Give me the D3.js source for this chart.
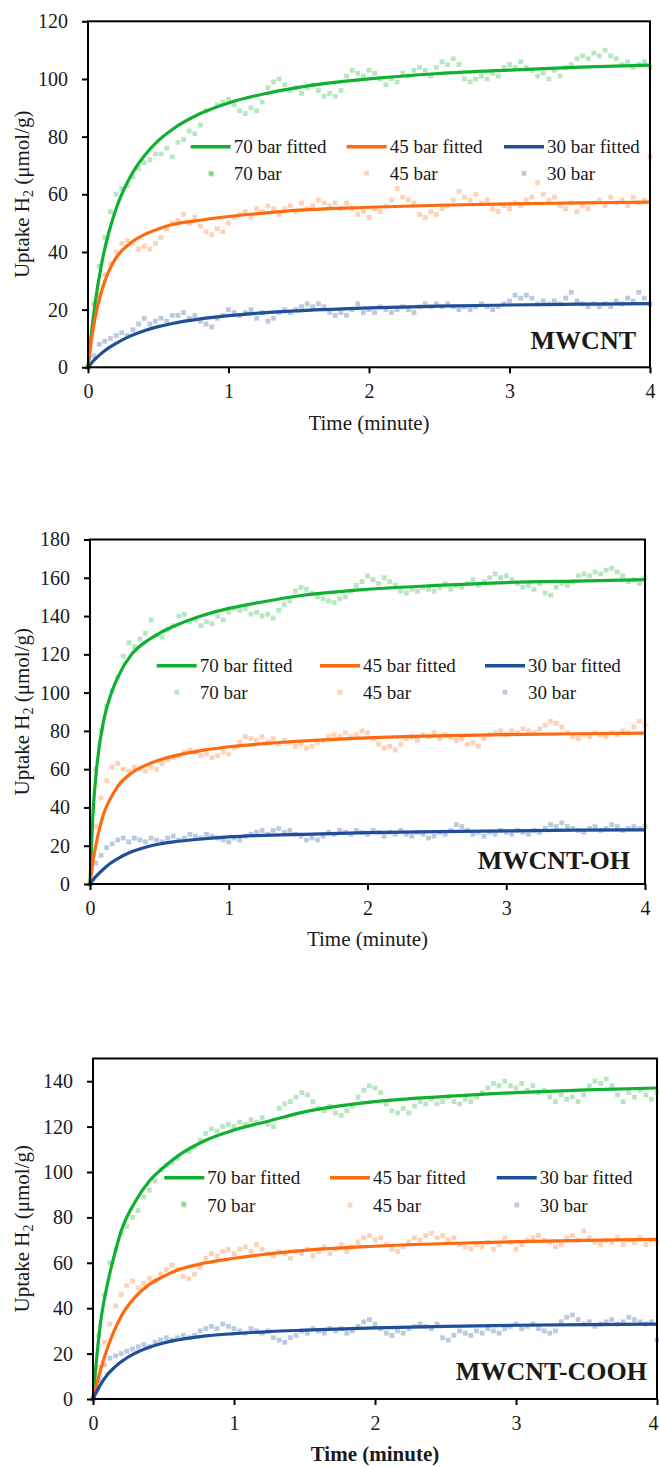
<!DOCTYPE html>
<html>
<head>
<meta charset="utf-8">
<script src="https://cdn.jsdelivr.net/npm/d3@7"></script>
<style>
  html, body { margin: 0; padding: 0; background: #fff; }
  svg { display: block; }
  svg text { font-family: "Liberation Serif", "Times New Roman", "DejaVu Serif", serif; fill: #1a1a1a; }
</style>
</head>
<body>
<svg id="chart" width="659" height="1467" font-family="Liberation Serif, Times New Roman, serif"></svg>
<script>
// Measured uptake: one reading every 0.04 min from 0 to 4 min
const sampleTimes = d3.range(101).map(i => +(i * 0.04).toFixed(2));
// Times at which the fitted kinetic curves are tabulated
const fitTimes = [0, 0.02, 0.05, 0.1, 0.15, 0.2, 0.3, 0.4, 0.5, 0.6, 0.8, 1, 1.25, 1.5, 2, 2.5, 3, 3.5, 4];

const seriesNames = ["70 bar", "45 bar", "30 bar"];
const xTicks = [0, 1, 2, 3, 4];

// ---- MWCNT ----
const mwcnt70 = [0,22,35,45,54,60,62,63,66,69,71,72,74,74,76,73,78,79,82,81,84,89,67,91,92,93,91,89,88,90,89,92,97,99,100,98,96,97,95,97,98,96,94,95,94,96,101,103,102,101,103,102,100,98,100,99,102,101,103,104,103,101,104,106,105,107,105,100,99,100,101,100,102,101,104,105,104,106,104,103,101,102,100,103,101,104,105,107,108,107,109,108,110,108,107,105,106,104,105,106,104];
const mwcnt45 = [0,16,25,32,36,40,43,44,43,41,42,41,43,45,48,50,51,53,50,52,49,47,46,48,47,50,52,53,54,52,55,54,56,55,53,55,56,54,57,55,56,58,57,56,57,55,57,55,53,54,52,55,54,56,58,62,59,58,57,53,52,54,53,55,56,58,61,59,58,60,57,58,55,54,56,55,57,56,58,59,64,60,58,59,56,55,57,54,56,55,57,58,56,59,57,58,56,59,57,58,73];
const mwcnt30 = [0,4,8,9,10,11,12,11,13,15,17,15,16,17,16,18,18,19,17,18,16,15,14,17,18,20,19,18,19,20,17,19,16,17,19,20,19,20,21,22,21,22,21,19,18,19,18,20,22,19,20,19,21,20,19,20,21,20,19,21,22,21,22,21,22,21,20,21,20,21,22,21,20,21,22,23,25,24,25,24,22,23,22,23,22,24,26,23,22,21,22,21,22,21,23,22,24,23,26,24,22];
const mwcnt70Fit = [0,10,22,36.7,47.1,55,66,73.3,78.6,82.5,88,91.7,94.8,97.1,100,101.9,103.1,104.1,104.8];
const mwcnt45Fit = [0,8,17,27,33.5,38,43,46,48,49.5,51,52.3,53.5,54.5,55.5,56.2,56.7,57,57.3];
const mwcnt30Fit = [0,1.2,2.8,5,6.8,8.3,10.8,12.7,14.1,15.2,16.8,17.9,18.9,19.6,20.6,21.2,21.6,21.9,22.1];

// ---- MWCNT-OH ----
const oh70 = [0,60,80,93,101,108,119,126,124,128,131,138,130,129,133,135,140,141,137,138,135,137,136,140,138,142,144,143,144,141,142,140,141,139,143,146,148,153,155,154,152,150,149,148,147,149,150,153,156,158,161,159,157,160,158,156,153,152,154,153,155,154,153,155,157,154,156,155,157,159,156,158,160,162,160,161,159,157,155,156,154,157,152,151,155,157,156,158,161,162,161,163,162,164,165,163,161,158,159,157,160];
const oh45 = [0,30,45,54,61,63,60,59,61,60,59,61,60,63,65,66,67,69,70,69,67,68,66,67,69,68,71,74,77,76,75,77,74,76,73,75,74,72,73,71,72,74,75,77,78,77,79,77,78,80,79,76,73,71,72,70,73,76,77,75,78,77,79,76,78,77,75,76,73,74,72,76,78,79,80,78,80,79,81,80,79,81,83,85,84,82,79,77,76,78,77,79,78,77,79,78,80,79,82,85,83];
const oh30 = [0,11,15,19,21,23,24,22,24,23,22,24,23,22,24,25,23,24,26,25,24,26,25,24,23,22,24,23,25,26,27,28,26,28,29,27,28,26,25,23,24,23,25,27,26,28,27,26,28,27,26,28,27,25,27,26,28,26,25,27,26,24,25,27,26,28,31,30,28,26,27,25,27,26,28,27,26,28,27,26,28,27,29,31,30,32,30,29,28,27,29,30,28,29,31,30,28,29,30,29,30];
const oh70Fit = [0,35,62,86,99,108,120,126.5,131,134.5,140,144,147.5,150.5,154,156,157.5,158.3,159];
const oh45Fit = [0,11,23,37,45,51,58,62,64.8,66.8,69.7,71.7,73.3,74.6,76.4,77.4,78,78.5,78.8];
const oh30Fit = [0,2,4.5,8,11,13.3,16.8,19.2,20.9,22,23.5,24.6,25.4,25.9,26.8,27.4,27.8,28.1,28.3];

// ---- MWCNT-COOH ----
const cooh70 = [0,28,46,60,66,73,76,80,83,89,92,96,101,103,104,106,86,109,111,114,117,119,118,120,121,120,122,121,123,122,124,121,120,128,130,131,133,135,134,131,128,127,129,126,125,127,129,133,136,138,137,135,130,127,126,128,126,129,131,130,132,130,131,133,131,130,132,131,133,135,137,139,138,140,138,137,139,136,138,135,136,133,131,134,132,133,131,134,138,140,139,141,138,134,131,135,133,136,134,132,135];
const cooh45 = [0,14,25,33,41,46,50,52,49,51,53,52,55,57,59,57,54,53,55,58,62,64,63,65,66,64,66,67,65,68,66,64,63,65,64,62,65,64,66,63,65,67,64,66,68,65,67,69,71,72,70,71,68,66,65,67,69,71,70,72,73,71,72,70,71,68,67,66,68,67,69,66,68,71,69,66,68,70,71,72,70,69,67,68,71,72,70,74,71,69,68,70,69,71,68,70,69,71,68,70,69];
const cooh30 = [0,8,15,18,19,20,21,22,23,24,23,25,26,27,26,27,28,27,28,30,31,32,31,33,32,31,30,29,31,30,29,30,27,26,25,27,28,30,29,31,30,29,31,30,31,29,30,32,34,35,33,31,29,28,30,29,31,32,33,32,31,33,27,26,28,30,29,28,30,29,31,30,29,31,32,33,31,32,33,31,30,29,30,34,36,37,35,33,34,32,33,34,35,33,34,36,35,34,33,34,26];
const cooh70Fit = [0,14,32,50,63,74,87,96,102,107,114,118.5,122.5,126.5,131,133.3,135,136.2,137];
const cooh45Fit = [0,5,12,22,30,36.5,45,50.5,54,56.8,60,62,64,65.5,67.3,68.5,69.3,69.9,70.3];
const cooh30Fit = [0,2.5,6,10.6,13.8,16.4,20.2,22.8,24.7,26,27.8,28.8,29.7,30.3,31.3,32,32.5,32.8,33];

const colors = ["#10b030", "#ff6a10", "#1f4e9a"];
const serif = '"Liberation Serif", "Times New Roman", serif';

const panels = [
  { label: "MWCNT", ymax: 120, yTicks: d3.range(0, 121, 20),
    left: 88, right: 650, top: 21.3, bottom: 367.3,
    measured: [mwcnt70, mwcnt45, mwcnt30], fitted: [mwcnt70Fit, mwcnt45Fit, mwcnt30Fit],
    legendCols: [190.7, 346.7, 504], legendRows: [146.7, 173.3],
    labelX: 636, labelY: 349, boldTitle: false },
  { label: "MWCNT-OH", ymax: 180, yTicks: d3.range(0, 181, 20),
    left: 90, right: 645, top: 539.5, bottom: 884,
    measured: [oh70, oh45, oh30], fitted: [oh70Fit, oh45Fit, oh30Fit],
    legendCols: [156.7, 320, 485], legendRows: [665.7, 692.3],
    labelX: 630, labelY: 869, boldTitle: false },
  { label: "MWCNT-COOH", ymax: 150, yTicks: d3.range(0, 141, 20),
    left: 93, right: 657, top: 1058.5, bottom: 1399,
    measured: [cooh70, cooh45, cooh30], fitted: [cooh70Fit, cooh45Fit, cooh30Fit],
    legendCols: [164.3, 330, 496.7], legendRows: [1177.7, 1205],
    labelX: 647, labelY: 1380, boldTitle: true }
];

const svg = d3.select("#chart");
svg.append("rect").attr("width", 659).attr("height", 1467).attr("fill", "#fff");

panels.forEach(p => {
  const g = svg.append("g").attr("font-family", serif);
  const x = d3.scaleLinear().domain([0, 4]).range([p.left, p.right]);
  const y = d3.scaleLinear().domain([0, p.ymax]).range([p.bottom, p.top]);

  // measured points (light squares)
  const sq = 4.8;
  p.measured.forEach((vals, si) => {
    g.append("g").selectAll("rect")
      .data(vals.map((v, i) => [sampleTimes[i], v]))
      .join("rect")
      .attr("x", d => x(d[0]) - sq / 2)
      .attr("y", d => y(d[1]) - sq / 2)
      .attr("width", sq).attr("height", sq)
      .attr("fill", colors[si]).attr("fill-opacity", 0.3);
  });

  // fitted curves
  const line = d3.line().x(d => x(d[0])).y(d => y(d[1])).curve(d3.curveMonotoneX);
  p.fitted.forEach((vals, si) => {
    g.append("path")
      .datum(vals.map((v, i) => [fitTimes[i], v]))
      .attr("d", line)
      .attr("fill", "none")
      .attr("stroke", colors[si])
      .attr("stroke-width", 3.2)
      .attr("stroke-linejoin", "round");
  });

  // plot frame
  g.append("rect")
    .attr("x", p.left).attr("y", p.top)
    .attr("width", p.right - p.left).attr("height", p.bottom - p.top)
    .attr("fill", "none").attr("stroke", "#000").attr("stroke-width", 2);

  // axes
  const xAxis = g.append("g")
    .attr("transform", `translate(0,${p.bottom})`)
    .call(d3.axisBottom(x).tickValues(xTicks).tickFormat(d3.format("d"))
      .tickSize(6).tickSizeOuter(0).tickPadding(11));
  const yAxis = g.append("g")
    .attr("transform", `translate(${p.left},0)`)
    .call(d3.axisLeft(y).tickValues(p.yTicks).tickFormat(d3.format("d"))
      .tickSize(6).tickSizeOuter(0).tickPadding(14));
  [xAxis, yAxis].forEach(a => {
    a.attr("font-family", serif);
    a.select(".domain").remove();
    a.selectAll(".tick line").attr("stroke", "#000").attr("stroke-width", 2);
    a.selectAll(".tick text")
      .attr("font-family", serif)
      .attr("font-size", 20).attr("fill", "#1a1a1a");
  });
  // keep the last time label inside the page edge
  xAxis.selectAll(".tick text")
    .attr("dx", d => (d === 4 && x(4) + 6 > 659) ? -4 : 0);

  // axis titles
  g.append("text")
    .attr("x", (p.left + p.right) / 2)
    .attr("y", p.bottom + 55)
    .attr("dy", "0.35em")
    .attr("text-anchor", "middle")
    .attr("font-size", 21)
    .attr("font-weight", p.boldTitle ? "bold" : "normal")
    .text("Time (minute)");

  const yt = g.append("text")
    .attr("transform", `translate(22,${(p.top + p.bottom) / 2}) rotate(-90)`)
    .attr("dy", "0.35em")
    .attr("text-anchor", "middle")
    .attr("font-size", 21);
  yt.append("tspan").text("Uptake H");
  yt.append("tspan").attr("font-size", 14).attr("dy", 4).text("2");
  yt.append("tspan").attr("dy", -4).text(" (\u03bcmol/g)");

  // sample label
  g.append("text")
    .attr("x", p.labelX).attr("y", p.labelY)
    .attr("text-anchor", "end")
    .attr("font-size", 26).attr("font-weight", "bold")
    .text(p.label);

  // legend: fitted lines on the first row, measured markers on the second
  seriesNames.forEach((name, si) => {
    const cx = p.legendCols[si];
    g.append("line")
      .attr("x1", cx).attr("x2", cx + 40)
      .attr("y1", p.legendRows[0]).attr("y2", p.legendRows[0])
      .attr("stroke", colors[si]).attr("stroke-width", 3.5);
    g.append("text")
      .attr("x", cx + 43).attr("y", p.legendRows[0]).attr("dy", "0.35em")
      .attr("font-size", 19).text(name + " fitted");
    g.append("rect")
      .attr("x", cx + 20 - sq / 2).attr("y", p.legendRows[1] - sq / 2)
      .attr("width", sq).attr("height", sq)
      .attr("fill", colors[si]).attr("fill-opacity", 0.3);
    g.append("text")
      .attr("x", cx + 43).attr("y", p.legendRows[1]).attr("dy", "0.35em")
      .attr("font-size", 19).text(name);
  });
});
</script>
</body>
</html>
